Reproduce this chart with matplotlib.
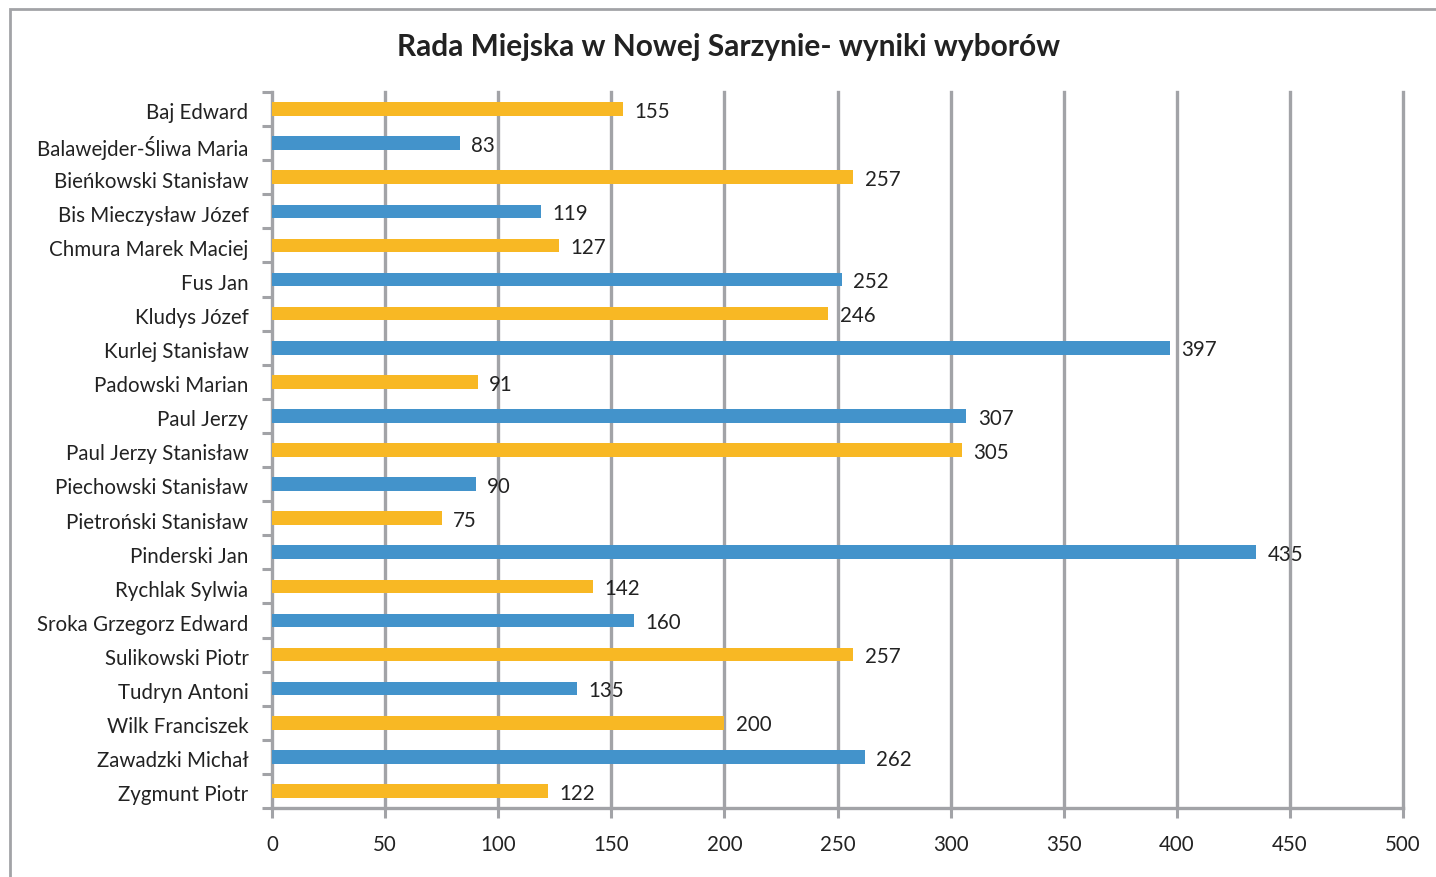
import matplotlib
matplotlib.use("Agg")
import matplotlib.pyplot as plt
from matplotlib.patches import Rectangle

names = ["Baj Edward", "Balawejder-Śliwa Maria", "Bieńkowski Stanisław", "Bis Mieczysław Józef",
         "Chmura Marek Maciej", "Fus Jan", "Kludys Józef", "Kurlej Stanisław", "Padowski Marian",
         "Paul Jerzy", "Paul Jerzy Stanisław", "Piechowski Stanisław", "Pietroński Stanisław",
         "Pinderski Jan", "Rychlak Sylwia", "Sroka Grzegorz Edward", "Sulikowski Piotr",
         "Tudryn Antoni", "Wilk Franciszek", "Zawadzki Michał", "Zygmunt Piotr"]
votes = [155, 83, 257, 119, 127, 252, 246, 397, 91, 307, 305, 90, 75, 435, 142, 160, 257, 135, 200, 262, 122]
xticks = [0, 50, 100, 150, 200, 250, 300, 350, 400, 450, 500]
title = "Rada Miejska w Nowej Sarzynie- wyniki wyborów"

ORANGE = "#F8B824"
BLUE = "#4393CB"
GRID = "#A2A3A7"

plt.rcParams['font.family'] = ['Lato', 'DejaVu Sans']

fig = plt.figure(figsize=(14.36, 8.78), dpi=100)
W, H = 1436, 878
ax = fig.add_axes([272 / W, 1 - 809 / H, (1403 - 272) / W, (809 - 93) / H])

n = len(names)
ys = list(range(n))
colors = [ORANGE if i % 2 == 0 else BLUE for i in range(n)]
ax.barh(ys, votes, height=0.4, color=colors, zorder=3)
for y, v in zip(ys, votes):
    ax.text(v + 5, y + 0.05, str(v), va='center', ha='left', fontsize=14.8, color='#222222', zorder=4)

ax.set_ylim(n - 0.5, -0.5)
ax.set_xlim(0, 500)
ax.set_xticks(xticks)
ax.set_xticklabels([str(t) for t in xticks], fontsize=14.8, color='#222222')
ax.set_yticks([y + 0.04 for y in ys])
ax.set_yticklabels(names, fontsize=14.8, color='#222222')
ax.tick_params(axis='y', length=0, pad=17)
ax.set_yticks([i - 0.5 for i in range(n + 1)], minor=True)
ax.tick_params(axis='y', which='minor', length=7, width=2.2, color=GRID)
ax.tick_params(axis='x', length=7, width=2.2, color=GRID, pad=12)

for t in xticks[1:]:
    ax.axvline(t, color=GRID, linewidth=2.4, zorder=1, clip_on=False)

for s in ['top', 'right']:
    ax.spines[s].set_visible(False)
for s in ['left', 'bottom']:
    ax.spines[s].set_color(GRID)
    ax.spines[s].set_linewidth(2.4)

fig.text(729 / W, 1 - 47 / H, title, ha='center', va='center', fontsize=21.5, fontweight='bold', color='#222222')

fig.patches.append(Rectangle((10 / W, -0.1), 1.2, (1 - 10 / H) + 0.1, transform=fig.transFigure,
                             fill=False, edgecolor=GRID, linewidth=2.0))

fig.savefig("out.png", dpi=100)
